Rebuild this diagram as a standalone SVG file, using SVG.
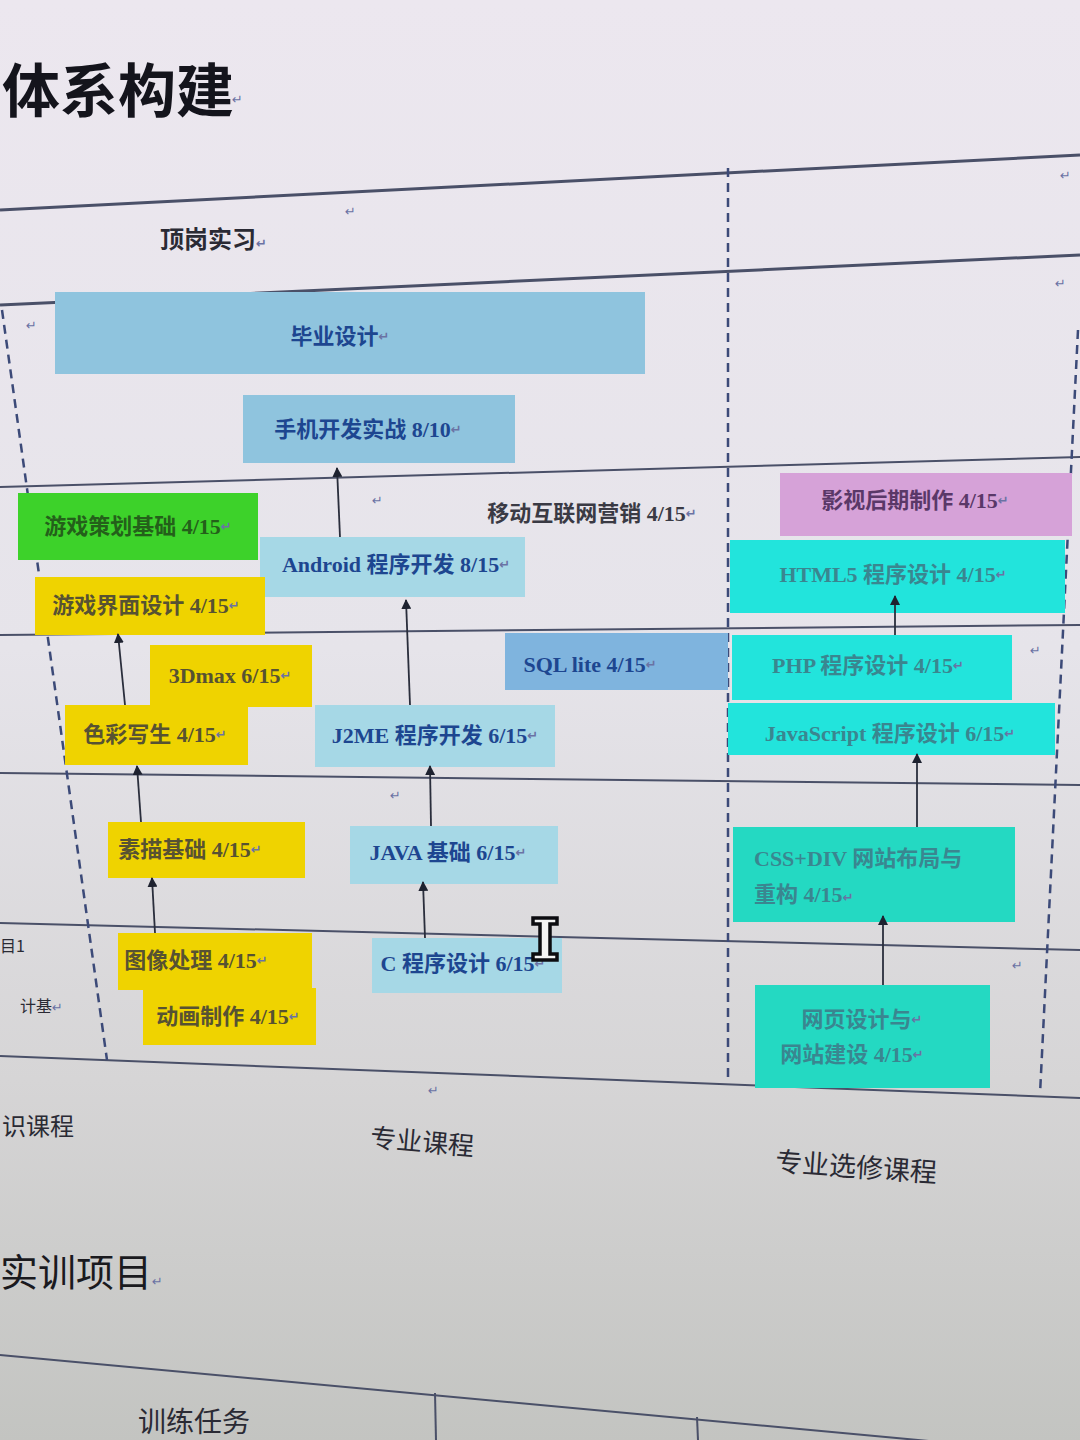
<svg xmlns="http://www.w3.org/2000/svg" width="1080" height="1440" viewBox="0 0 1080 1440">
  <defs>
    <linearGradient id="bg" x1="0" y1="0" x2="0" y2="1">
      <stop offset="0" stop-color="#ece7ef"/>
      <stop offset="0.45" stop-color="#e6e4ea"/>
      <stop offset="0.75" stop-color="#d6d5d6"/>
      <stop offset="1" stop-color="#c3c4c1"/>
    </linearGradient>
    <marker id="arr" markerUnits="userSpaceOnUse" markerWidth="10" markerHeight="10" refX="9" refY="5" orient="auto">
      <path d="M0,0 L10,5 L0,10 z" fill="#1e2230"/>
    </marker>
    <style>
      .grid { stroke: #4a5068; stroke-width: 3; fill: none; }
      .thin { stroke: #4a5068; stroke-width: 2; fill: none; }
      .dash { stroke: #3c4a78; stroke-width: 2.5; stroke-dasharray: 9 6; fill: none; }
      .conn { stroke: #2a2e3c; stroke-width: 1.8; fill: none; marker-end: url(#arr); }
      .lbl { font-family: "Liberation Serif", "Noto Sans CJK SC", serif; font-size: 22px; text-anchor: middle; dominant-baseline: central; font-weight: bold; }
      .lbll { font-family: "Liberation Serif", "Noto Sans CJK SC", serif; font-size: 22px; font-weight: bold; }
      .blue { fill: #8fc4de; }
      .lblue { fill: #a6d8e6; }
      .dblue { fill: #7fb4de; }
      .yel { fill: #efd300; }
      .cyan { fill: #22e4dc; }
      .teal { fill: #24d9c2; }
      .grn { fill: #3dd22a; }
      .pink { fill: #d6a2d8; }
      .tb { fill: #1d4690; }
      .ty { fill: #575232; }
      .tc { fill: #3a8690; }
      .tg { fill: #24601a; }
      .tp { fill: #5a3868; }
      .tk { fill: #3a3a44; }
      .ret { font-family: "DejaVu Sans", sans-serif; font-size: 13px; fill: #6a72a4; }
      .hdr { font-family: "Noto Sans CJK SC", sans-serif; fill: #2a2a34; }
    </style>
  </defs>

  <rect x="0" y="0" width="1080" height="1440" fill="url(#bg)"/>

  <!-- title -->
  <text x="2" y="112" font-family="Noto Sans CJK SC, sans-serif" font-size="58" font-weight="bold" fill="#14141c">体系构建</text>
  <text x="232" y="104" class="ret" font-size="18">↵</text>

  <!-- table grid -->
  <g id="grid">
    <line class="grid" x1="0" y1="210" x2="1080" y2="155"/>
    <line class="grid" x1="0" y1="305" x2="1080" y2="255"/>
    <line class="thin" x1="0" y1="487" x2="1080" y2="457"/>
    <line class="thin" x1="0" y1="635" x2="1080" y2="625"/>
    <line class="thin" x1="0" y1="773" x2="1080" y2="785"/>
    <line class="thin" x1="0" y1="923" x2="1080" y2="950"/>
    <line class="thin" x1="0" y1="1056" x2="1080" y2="1098"/>
    <line class="dash" x1="2" y1="310" x2="107" y2="1060"/>
    <line class="dash" x1="728" y1="168" x2="728" y2="1082"/>
    <line class="dash" x1="1078" y1="330" x2="1040" y2="1094"/>
    <line class="thin" x1="0" y1="1355" x2="1080" y2="1455"/>
    <line class="thin" x1="435" y1="1393" x2="436" y2="1440"/>
    <line class="thin" x1="697" y1="1417" x2="698" y2="1440"/>
  </g>

  <!-- paragraph marks -->
  <g id="marks">
    <text class="ret" x="345" y="216">↵</text>
    <text class="ret" x="1060" y="180">↵</text>
    <text class="ret" x="1055" y="288">↵</text>
    <text class="ret" x="26" y="330">↵</text>
    <text class="ret" x="372" y="505">↵</text>
    <text class="ret" x="1030" y="655">↵</text>
    <text class="ret" x="390" y="800">↵</text>
    <text class="ret" x="1012" y="970">↵</text>
    <text class="ret" x="428" y="1095">↵</text>
  </g>

  <!-- header / side texts -->
  <text class="hdr" x="160" y="248" font-size="24" font-weight="bold">顶岗实习<tspan class="ret">↵</tspan></text>
  <text class="hdr" x="0" y="952" font-size="16" fill="#555">目1</text>
  <text class="hdr" x="20" y="1012" font-size="16" fill="#555">计基<tspan class="ret">↵</tspan></text>
  <text class="hdr" x="2" y="1135" font-size="24">识课程</text>
  <text class="hdr" x="370" y="1152" font-size="26" transform="rotate(5 430 1145)">专业课程</text>
  <text class="hdr" x="775" y="1178" font-size="27" transform="rotate(4 875 1170)">专业选修课程</text>
  <text x="0" y="1286" font-family="Noto Sans CJK SC, sans-serif" font-size="38" fill="#1a1a1e">实训项目<tspan class="ret" font-size="16">↵</tspan></text>
  <text class="hdr" x="138" y="1432" font-size="28">训练任务</text>

  <!-- nodes -->
  <g id="n-biye"><rect class="blue" x="55" y="292" width="590" height="82"/><text class="lbl tb" x="340" y="336" font-size="26">毕业设计<tspan class="ret">↵</tspan></text></g>
  <g id="n-shouji"><rect class="blue" x="243" y="395" width="272" height="68"/><text class="lbl tb" x="368" y="429">手机开发实战 8/10<tspan class="ret">↵</tspan></text></g>
  <g id="n-cehua"><rect class="grn" x="18" y="493" width="240" height="67"/><text class="lbl tg" x="138" y="526">游戏策划基础 4/15<tspan class="ret">↵</tspan></text></g>
  <g id="n-android"><rect class="lblue" x="260" y="537" width="265" height="60"/><text class="lbl tb" x="396" y="564">Android 程序开发 8/15<tspan class="ret">↵</tspan></text></g>
  <g id="n-yingxiao"><text class="lbl tk" x="592" y="513">移动互联网营销 4/15<tspan class="ret">↵</tspan></text></g>
  <g id="n-yingshi"><rect class="pink" x="780" y="473" width="292" height="63"/><text class="lbl tp" x="915" y="500">影视后期制作 4/15<tspan class="ret">↵</tspan></text></g>
  <g id="n-jiemian"><rect class="yel" x="35" y="577" width="230" height="58"/><text class="lbl ty" x="146" y="605">游戏界面设计 4/15<tspan class="ret">↵</tspan></text></g>
  <g id="n-html5"><rect class="cyan" x="730" y="540" width="335" height="73"/><text class="lbl tc" x="893" y="574">HTML5 程序设计 4/15<tspan class="ret">↵</tspan></text></g>
  <g id="n-3dmax"><rect class="yel" x="150" y="645" width="162" height="62"/><text class="lbl ty" x="230" y="675">3Dmax 6/15<tspan class="ret">↵</tspan></text></g>
  <g id="n-sqlite"><rect class="dblue" x="505" y="633" width="223" height="57"/><text class="lbl tb" x="590" y="664">SQL lite 4/15<tspan class="ret">↵</tspan></text></g>
  <g id="n-php"><rect class="cyan" x="732" y="635" width="280" height="65"/><text class="lbl tc" x="868" y="665">PHP 程序设计 4/15<tspan class="ret">↵</tspan></text></g>
  <g id="n-secai"><rect class="yel" x="65" y="705" width="183" height="60"/><text class="lbl ty" x="155" y="734">色彩写生 4/15<tspan class="ret">↵</tspan></text></g>
  <g id="n-j2me"><rect class="lblue" x="315" y="705" width="240" height="62"/><text class="lbl tb" x="435" y="735">J2ME 程序开发 6/15<tspan class="ret">↵</tspan></text></g>
  <g id="n-js"><rect class="cyan" x="728" y="703" width="327" height="52"/><text class="lbl tc" x="890" y="733">JavaScript 程序设计 6/15<tspan class="ret">↵</tspan></text></g>
  <g id="n-sumiao"><rect class="yel" x="108" y="822" width="197" height="56"/><text class="lbl ty" x="190" y="849">素描基础 4/15<tspan class="ret">↵</tspan></text></g>
  <g id="n-java"><rect class="lblue" x="350" y="826" width="208" height="58"/><text class="lbl tb" x="448" y="852">JAVA 基础 6/15<tspan class="ret">↵</tspan></text></g>
  <g id="n-css"><rect class="teal" x="733" y="827" width="282" height="95"/><text class="lbll tc" x="754" y="866">CSS+DIV 网站布局与</text><text class="lbll tc" x="754" y="902">重构 4/15<tspan class="ret">↵</tspan></text></g>
  <g id="n-tuxiang"><rect class="yel" x="118" y="933" width="194" height="57"/><text class="lbl ty" x="196" y="960">图像处理 4/15<tspan class="ret">↵</tspan></text></g>
  <g id="n-donghua"><rect class="yel" x="143" y="988" width="173" height="57"/><text class="lbl ty" x="228" y="1016">动画制作 4/15<tspan class="ret">↵</tspan></text></g>
  <g id="n-c"><rect class="lblue" x="372" y="938" width="190" height="55"/><text class="lbl tb" x="463" y="963">C 程序设计 6/15<tspan class="ret">↵</tspan></text></g>
  <g id="n-wangye"><rect class="teal" x="755" y="985" width="235" height="103"/><text class="lbl tc" x="862" y="1019">网页设计与<tspan class="ret">↵</tspan></text><text class="lbl tc" x="852" y="1054">网站建设 4/15<tspan class="ret">↵</tspan></text></g>

  <!-- connectors -->
  <g id="connectors">
    <line class="conn" x1="340" y1="537" x2="337" y2="468"/>
    <line class="conn" x1="410" y1="705" x2="406" y2="600"/>
    <line class="conn" x1="431" y1="826" x2="430" y2="766"/>
    <line class="conn" x1="425" y1="938" x2="423" y2="882"/>
    <line class="conn" x1="155" y1="933" x2="152" y2="878"/>
    <line class="conn" x1="141" y1="822" x2="137" y2="766"/>
    <line class="conn" x1="125" y1="705" x2="118" y2="634"/>
    <line class="conn" x1="883" y1="985" x2="883" y2="916"/>
    <line class="conn" x1="917" y1="827" x2="917" y2="754"/>
    <line class="conn" x1="895" y1="635" x2="895" y2="596"/>
  </g>

  <!-- text cursor -->
  <g id="cursor">
    <path d="M533,918 h24 v6 h-7 v30 h7 v6 h-24 v-6 h7 v-30 h-7 z" fill="#f4f4f4" stroke="#0c0c10" stroke-width="3.5"/>
  </g>
</svg>
